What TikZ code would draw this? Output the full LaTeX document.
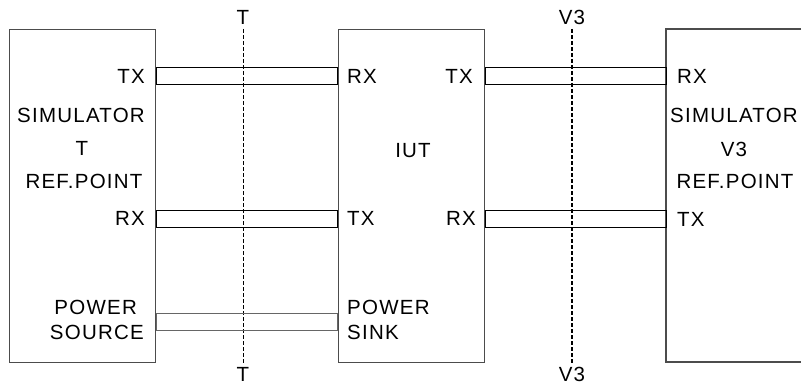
\documentclass[tikz,border=0pt]{standalone}
\usepackage{fontspec}
\setmainfont[LetterSpace=6]{Liberation Sans}
\begin{document}
\begin{tikzpicture}[x=1pt,y=-1pt,
  box/.style={draw=black!70,line width=1.3pt,inner sep=0pt,anchor=north west},
  chan/.style={draw=black,line width=0.9pt},
  pchan/.style={draw=black!60,line width=0.9pt},
  lbl/.style={inner sep=0pt,font=\fontsize{20.5}{24}\selectfont},
  refT/.style={draw=black,line width=0.7pt,dash pattern=on 4pt off 2pt},
  refV/.style={draw=black,line width=1.4pt,dash pattern=on 4pt off 2pt}]
\fill[white] (0,0) rectangle (802,385);
\useasboundingbox (0,0) rectangle (802,385);
% boxes
\node[box,minimum width=146pt,minimum height=333pt] (L) at (9,29) {};
\node[box,minimum width=146pt,minimum height=333pt] (M) at (338,29) {};
\coordinate (Rtl) at (666,29);
\coordinate (Rbl) at (666,362);
\coordinate (Rtr) at (801,29);
\coordinate (Rbr) at (801,362);
\draw[draw=black!70,line width=1.3pt] (Rtr) -- (Rtl) -- (Rbl) -- (Rbr);
% reference lines
\node[lbl] (Tt) at (243,17) {T};
\node[lbl] (Tb) at (243,374) {T};
\node[lbl] (Vt) at (572,17) {V3};
\node[lbl] (Vb) at (572,374) {V3};
\draw[refT] (Tt.south |- L.north) -- (Tb.north |- L.south);
\draw[refV] (Vt.south |- M.north) -- (Vb.north |- M.south);
% channels
\coordinate (a1) at (L.east |- 0,67);  \coordinate (a2) at (337,84);
\coordinate (b1) at (L.east |- 0,210); \coordinate (b2) at (337,227);
\coordinate (c1) at (L.east |- 0,313); \coordinate (c2) at (337,330);
\coordinate (d1) at (M.east |- 0,67);  \coordinate (d2) at (Rtl |- 0,84);
\coordinate (e1) at (M.east |- 0,210); \coordinate (e2) at (Rtl |- 0,227);
\draw[chan] (a1) rectangle (a2);
\draw[chan] (b1) rectangle (b2);
\draw[pchan] (c1) rectangle (c2);
\draw[chan] (d1) rectangle (d2);
\draw[chan] (e1) rectangle (e2);
% left box labels
\node[lbl,anchor=east] (l1) at (145,76) {TX};
\node[lbl] (l2) at (81,115) {SIMULATOR};
\node[lbl] (l3) at (82,148) {T};
\node[lbl] (l4) at (84,181) {REF.POINT};
\node[lbl,anchor=east] (l5) at (145,218) {RX};
\node[lbl,anchor=east] (l6) at (137,307) {POWER};
\node[lbl,anchor=east] (l7) at (144,332) {SOURCE};
% middle box labels
\node[lbl,anchor=west] (m1) at (347,76) {RX};
\node[lbl,anchor=east] (m2) at (473,76) {TX};
\node[lbl] (m3) at (413,151) {IUT};
\node[lbl,anchor=west] (m4) at (347,218) {TX};
\node[lbl,anchor=east] (m5) at (476,218) {RX};
\node[lbl,anchor=west] (m6) at (347,307) {POWER};
\node[lbl,anchor=west] (m7) at (347,332) {SINK};
% right box labels
\node[lbl,anchor=west] (r1) at (677,76) {RX};
\node[lbl] (r2) at (734,115) {SIMULATOR};
\node[lbl] (r3) at (734,149) {V3};
\node[lbl] (r4) at (735,181) {REF.POINT};
\node[lbl,anchor=west] (r5) at (677,219) {TX};
\end{tikzpicture}
\end{document}
